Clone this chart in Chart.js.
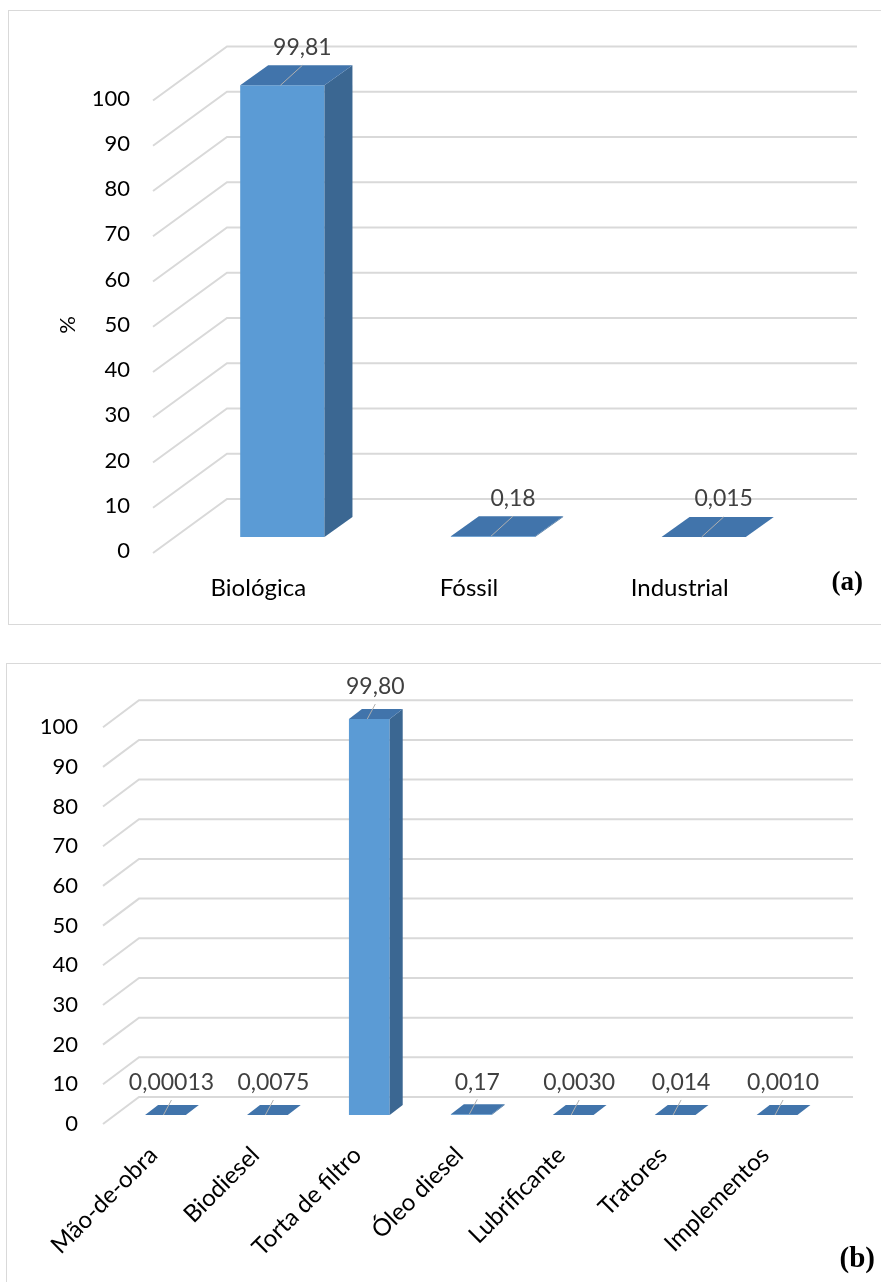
<!DOCTYPE html>
<html>
<head>
<meta charset="utf-8">
<script src="https://cdn.jsdelivr.net/npm/chart.js@4.4.0/dist/chart.umd.min.js"></script>
<style>
  body { margin: 0; background: #fff; width: 881px; height: 1282px; overflow: hidden; position: relative; }
  .box { position: absolute; border: 1px solid #d9d9d9; box-sizing: border-box; }
  #boxA { left: 8px; top: 10px; width: 900px; height: 615px; }
  #boxB { left: 6px; top: 663px; width: 900px; height: 660px; }
  .wrap { position: absolute; left: 0; top: 0; }
  #wrapA { width: 872px; height: 613px; }
  #wrapB { width: 874px; height: 618px; }
</style>
</head>
<body>
<div class="box" id="boxA"><div class="wrap" id="wrapA"><canvas id="chartA"></canvas></div></div>
<div class="box" id="boxB"><div class="wrap" id="wrapB"><canvas id="chartB"></canvas></div></div>
<script>
// (a) share by source
const catsA = ['Biológica', 'Fóssil', 'Industrial'];
const valsA = [99.81, 0.18, 0.015];
const decimalsA = [2, 2, 3];

// (b) share by input
const catsB = ['Mão-de-obra', 'Biodiesel', 'Torta de filtro', 'Óleo diesel', 'Lubrificante', 'Tratores', 'Implementos'];
const valsB = [0.00013, 0.0075, 99.80, 0.17, 0.0030, 0.014, 0.0010];
const decimalsB = [5, 4, 2, 2, 4, 3, 4];

const yMin = 0, yMax = 100, yStep = 10;

const FONT = 'Lato';
const faceFront = '#5b9bd5', faceSide = '#3b6792', faceTop = '#4174ab';

function fmt(v, d) {
    return v.toFixed(d).replace('.', ',');
}

// fake 3D: slanted wall gridlines behind, side/top faces on the bars, value labels
function box3d(o) {
    return {
        id: 'box3d',
        beforeDatasetsDraw(chart) {
            const ctx = chart.ctx, a = chart.chartArea, y = chart.scales.y;
            ctx.save();
            ctx.strokeStyle = '#d9d9d9';
            ctx.lineWidth = 2;
            y.ticks.forEach(t => {
                const py = y.getPixelForValue(t.value);
                ctx.beginPath();
                ctx.moveTo(a.left + o.wallFrontX, py + o.wallFrontY);
                ctx.lineTo(a.left + o.wallBackX, py + o.wallBackY);
                ctx.lineTo(a.right + o.wallRightX, py + o.wallBackY);
                ctx.stroke();
            });
            ctx.restore();
        },
        afterDatasetsDraw(chart) {
            const ctx = chart.ctx;
            const meta = chart.getDatasetMeta(0);
            const data = chart.data.datasets[0].data;
            const dx = o.depthX, dy = o.depthY;
            ctx.save();
            meta.data.forEach((bar, i) => {
                const p = bar.getProps(['x', 'y', 'base', 'width'], true);
                const l = p.x - p.width / 2, r = p.x + p.width / 2;
                ctx.fillStyle = faceSide;
                ctx.beginPath();
                ctx.moveTo(r, p.y);
                ctx.lineTo(r + dx, p.y + dy);
                ctx.lineTo(r + dx, p.base + dy);
                ctx.lineTo(r, p.base);
                ctx.closePath();
                ctx.fill();
                ctx.fillStyle = faceTop;
                ctx.beginPath();
                ctx.moveTo(l, p.y);
                ctx.lineTo(r, p.y);
                ctx.lineTo(r + dx, p.y + dy);
                ctx.lineTo(l + dx, p.y + dy);
                ctx.closePath();
                ctx.fill();

                const lx = p.x + o.labelX, ly = p.y + o.labelY;
                ctx.strokeStyle = '#b0b0b0';
                ctx.lineWidth = 1;
                ctx.beginPath();
                ctx.moveTo(lx, ly + o.leadFrom);
                ctx.lineTo(p.x - 2, p.y);
                ctx.stroke();
                ctx.fillStyle = '#404040';
                ctx.font = '23px ' + FONT;
                ctx.textAlign = 'center';
                ctx.textBaseline = 'middle';
                ctx.fillText(fmt(data[i], o.decimals[i]), lx, ly);
            });
            ctx.restore();
        },
        afterDraw(chart) {
            const ctx = chart.ctx;
            ctx.save();
            ctx.fillStyle = '#000';
            ctx.font = 'bold ' + o.tagSize + 'px "Liberation Serif"';
            ctx.textAlign = 'right';
            ctx.textBaseline = 'alphabetic';
            ctx.fillText(o.tag, o.tagX, o.tagY);
            if (o.yTitle) {
                ctx.font = '22px ' + FONT;
                ctx.textAlign = 'center';
                ctx.textBaseline = 'middle';
                ctx.translate(o.yTitleX, o.yTitleY);
                ctx.rotate(-Math.PI / 2);
                ctx.fillText(o.yTitle, 0, 0);
            }
            ctx.restore();
        }
    };
}

function makeChart(id, cats, vals, s) {
    return new Chart(document.getElementById(id).getContext('2d'), {
        type: 'bar',
        data: {
            labels: cats,
            datasets: [{
                data: vals,
                backgroundColor: faceFront,
                borderWidth: 0,
                barPercentage: 0.4,
                categoryPercentage: 1
            }]
        },
        options: {
            responsive: true,
            maintainAspectRatio: false,
            animation: false,
            layout: { padding: { top: s.padTop, right: s.padRight, left: 0, bottom: 0 } },
            plugins: { legend: { display: false }, tooltip: { enabled: false } },
            scales: {
                x: {
                    grid: { display: false, drawTicks: false },
                    border: { display: false },
                    ticks: {
                        font: { family: FONT, size: 24 },
                        color: '#000',
                        padding: s.xPad,
                        labelOffset: s.xShift,
                        minRotation: s.rot,
                        maxRotation: s.rot,
                        autoSkip: false
                    },
                    afterFit: sc => { sc.height = s.xHeight; }
                },
                y: {
                    min: yMin,
                    max: yMax,
                    grid: { display: false, drawTicks: false },
                    border: { display: false },
                    ticks: {
                        stepSize: yStep,
                        font: { family: FONT, size: 22 },
                        color: '#000',
                        padding: s.yPad,
                        labelOffset: s.yShift
                    },
                    afterFit: sc => { sc.width = s.yWidth; }
                }
            }
        },
        plugins: [box3d(s.look)]
    });
}

makeChart('chartA', catsA, valsA, {
    padTop: 73.5, padRight: 72, xHeight: 87, yWidth: 168,
    xPad: 37, xShift: -24, rot: 0, yPad: 47, yShift: 14,
    look: {
        wallFrontX: -24, wallFrontY: 16, wallBackX: 50, wallBackY: -38, wallRightX: 48,
        depthX: 28, depthY: -20,
        labelX: 20, labelY: -38, leadFrom: 18,
        decimals: decimalsA,
        tag: '(a)', tagSize: 27, tagX: 854, tagY: 579,
        yTitle: '%', yTitleX: 59, yTitleY: 314
    }
});

makeChart('chartB', catsB, valsB, {
    padTop: 54.2, padRight: 53, xHeight: 167, yWidth: 107.5,
    xPad: 26, xShift: -12, rot: 45, yPad: 36.5, yShift: 9,
    look: {
        wallFrontX: -11.5, wallFrontY: 9, wallBackX: 24.5, wallBackY: -18, wallRightX: 25,
        depthX: 13, depthY: -10,
        labelX: 6, labelY: -32, leadFrom: 17,
        decimals: decimalsB,
        tag: '(b)', tagSize: 29, tagX: 868, tagY: 603
    }
});
</script>
</body>
</html>
